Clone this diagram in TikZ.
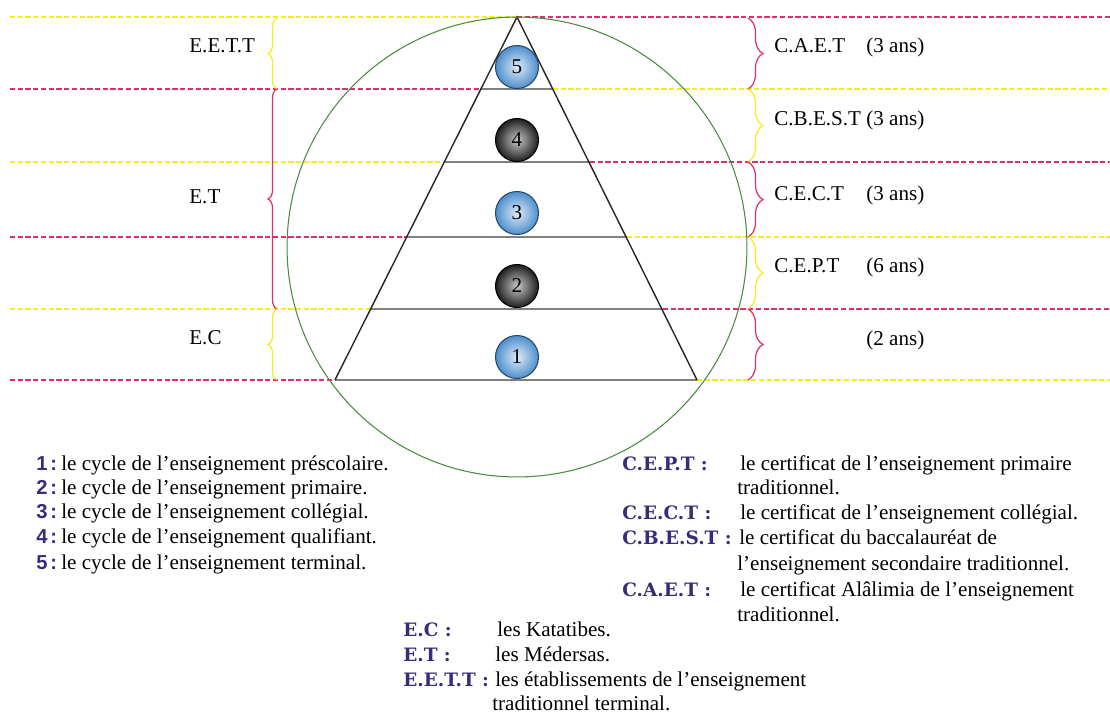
\documentclass[tikz,border=0pt]{standalone}
\usepackage{fontspec}
\setmainfont{Liberation Serif}
\newfontfamily\keysans{Liberation Sans}
\newfontfamily\keyserif{DejaVu Serif}
\usetikzlibrary{decorations.pathreplacing,positioning}
\definecolor{ylw}{RGB}{246,236,30}
\definecolor{rdd}{RGB}{222,48,108}
\definecolor{grn}{RGB}{72,140,62}
\definecolor{ink}{RGB}{58,42,122}
\definecolor{ballblue}{RGB}{78,142,204}
\definecolor{ballhi}{RGB}{222,236,248}
\definecolor{ballrim}{RGB}{40,70,105}
\tikzset{
  dashln/.style={line width=0.9pt, dash pattern=on 3pt off 1.4pt},
  lvl/.style={draw=gray, line width=1pt},
  pyr/.style={draw=black!85, line width=0.8pt},
  lbrace/.style={decorate, decoration={brace, amplitude=0.18cm}, line width=0.7pt},
  rbrace/.style={decorate, decoration={brace, amplitude=0.3cm}, line width=0.7pt},
  blueball/.style={circle, draw=ballrim, line width=0.6pt, minimum size=0.86cm, inner sep=0pt,
    inner color=ballhi, outer color=ballblue},
  darkball/.style={circle, draw=black, line width=0.6pt, minimum size=0.86cm, inner sep=0pt,
    inner color=black!22, outer color=black!88},
  lab/.style={anchor=west, inner sep=0pt, text height=1.6ex, text depth=0.3ex},
  numkey/.style={lab, text=ink, font=\fontsize{11.5}{14}\keysans\bfseries},
  abbkey/.style={lab, text=ink, font=\fontsize{10.5}{14}\keyserif\bfseries}
}
\begin{document}
\begin{tikzpicture}[x=0.02cm, y=-0.02cm, font=\fontsize{12}{14}\selectfont]
    \useasboundingbox (0,0) rectangle (1110,714);
    \foreach \yy/\xl/\xr/\cl/\cr in {17/517/517/ylw/rdd, 89/481/553/rdd/ylw, 162/444/590/ylw/rdd,
                                      237/407/627/rdd/ylw, 309/371/663/ylw/rdd, 380/335/697/rdd/ylw}{
        \draw[dashln, \cl] (10,\yy) -- (\xl,\yy);
        \draw[dashln, \cr] (\xr,\yy) -- (1110,\yy);
        \draw[lvl] (\xl,\yy) -- (\xr,\yy);
    }
    \draw[pyr] (335,380) -- (517,17) -- (697,380);
    \draw[grn, line width=0.6pt] (517,247) circle[radius=4.6cm];
    \foreach \n/\yy/\st in {1/357/blueball, 2/286/darkball, 3/213/blueball, 4/140/darkball, 5/67/blueball}
        \node[\st] (ball\n) at (517,\yy) {\n};
    \draw[lbrace, ylw] (277,89) -- (277,18);
    \draw[lbrace, rdd] (277,309) -- (277,89);
    \draw[lbrace, ylw] (277,380) -- (277,309);
    \draw[rbrace, rdd] (748,18) -- (748,89);
    \draw[rbrace, ylw] (748,89) -- (748,162);
    \draw[rbrace, rdd] (748,162) -- (748,237);
    \draw[rbrace, ylw] (748,237) -- (748,309);
    \draw[rbrace, rdd] (748,309) -- (748,380);
    \node[lab] (eett) at (189,47) {E.E.T.T};
    \node[lab] (et) at (189,198) {E.T};
    \node[lab] (ec) at (189,339) {E.C};
    \node[lab] (caet) at (774,47) {C.A.E.T};
    \node[lab] (cbest) at (774,120) {C.B.E.S.T};
    \node[lab] (cect) at (774,195) {C.E.C.T};
    \node[lab] (cept) at (774,267) {C.E.P.T};
    \foreach \yy/\dd [count=\i] in {47/3, 120/3, 195/3, 267/6, 340/2}
        \node[lab] (ans\i) at (866,\yy) {(\dd\ ans)};
    \foreach \yy/\txt [count=\i] in {465/préscolaire, 489/primaire, 513/collégial, 538/qualifiant, 564/terminal}{
        \node[numkey] (key\i) at (36,\yy) {\i\hspace{1.6pt}:};
        \node[lab] (cyc\i) at (61,\yy) {le cycle de l’enseignement \txt.};
    }
    \node[abbkey] (kcept) at (622,465) {C.E.P.T :};
    \node[lab] (tcept) at (740,465) {le certificat de l’enseignement primaire};
    \node[lab] (tcept2) at (737,489) {traditionnel.};
    \node[abbkey] (kcect) at (622,514) {C.E.C.T :};
    \node[lab] (tcect) at (740,514) {le certificat de l’enseignement collégial.};
    \node[abbkey] (kcbest) at (622,539) {C.B.E.S.T :};
    \node[lab] (tcbest) at (739,539) {le certificat du baccalauréat de};
    \node[lab] (tcbest2) at (737,565) {l’enseignement secondaire traditionnel.};
    \node[abbkey] (kcaet) at (622,591) {C.A.E.T :};
    \node[lab] (tcaet) at (740,591) {le certificat Alâlimia de l’enseignement};
    \node[lab] (tcaet2) at (737,616) {traditionnel.};
    \node[abbkey] (kec) at (403,631) {E.C :};
    \node[lab] (tec) at (497,631) {les Katatibes.};
    \node[abbkey] (ket) at (403,656) {E.T :};
    \node[lab] (tet) at (495,656) {les Médersas.};
    \node[abbkey] (keett) at (403,681) {E.E.T.T :};
    \node[lab] (teett) at (495,681) {les établissements de l’enseignement};
    \node[lab] (teett2) at (492,705) {traditionnel terminal.};
\end{tikzpicture}
\end{document}
